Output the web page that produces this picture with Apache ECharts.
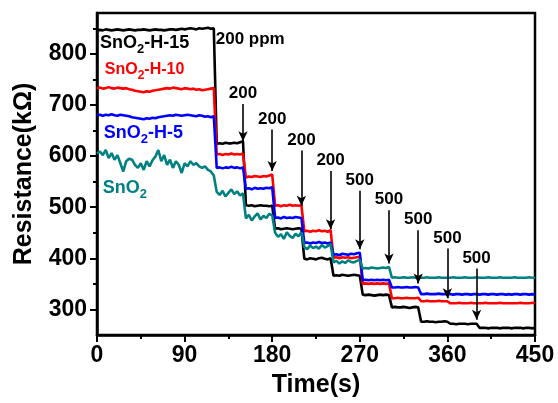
<!DOCTYPE html>
<html>
<head>
<meta charset="utf-8">
<script src="https://cdn.jsdelivr.net/npm/echarts@6/dist/echarts.min.js"></script>
<style>
html, body { margin: 0; padding: 0; background: #fff; }
#chart { width: 558px; height: 403px; }
</style>
</head>
<body>
<div id="chart"></div>
<script>
// sampling every 3 s, 0 .. 450 s
var times = [];
for (var t = 0; t <= 450; t += 3) times.push(t);

// SnO2-H-15 (black), values in kOhm
var h15 = [
	846,847,846,848,847,846,847,848,847,846,
	847,848,847,846,847,847,848,847,846,847,
	848,847,847,846,847,848,848,847,848,849,
	848,849,850,849,848,850,849,850,851,849,850,
	624,625,624,626,625,625,626,625,627,629,
	504,503,504,502,503,504,503,503,502,503,
	458,459,457,458,459,458,457,458,459,458,
	399,398,400,399,398,400,401,399,398,400,
	366,367,366,368,367,366,367,368,367,366,
	329,328,329,328,327,328,329,328,329,328,
	304,305,304,304,305,304,303,304,305,304,
	276,276,277,276,276,275,276,276,277,276,
	272,272,271,272,272,272,271,272,272,272,
	264,264,264,263,264,264,264,263,264,264,
	264,263,264,264,264,263,264,264,263,264
];
// SnO2-H-10 (red)
var h10 = [
	733,734,732,733,735,733,732,734,733,732,
	733,731,730,728,727,726,725,727,726,728,
	729,730,731,732,733,732,734,733,732,731,
	733,732,731,732,730,731,729,730,731,732,733,
	603,604,602,604,603,605,603,604,603,605,
	558,560,559,561,560,559,561,560,562,564,
	503,504,502,504,503,505,503,504,503,504,
	453,454,452,454,453,455,453,454,452,455,
	401,402,400,402,401,402,400,401,402,403,
	350,351,350,351,350,351,350,351,350,351,
	322,322,323,322,322,323,322,322,322,323,
	316,316,317,316,316,316,317,316,316,316,
	312,312,312,313,312,312,312,313,312,312,
	312,312,313,312,312,312,312,313,312,312,
	312,312,312,312,313,312,312,312,313,312
];
// SnO2-H-5 (blue)
var h5 = [
	680,681,679,681,680,682,680,679,681,680,
	679,678,676,675,674,673,672,674,673,675,
	674,676,677,678,679,680,679,681,680,679,
	680,681,680,679,678,680,679,677,678,676,678,
	577,578,576,578,577,579,577,578,576,578,
	536,537,535,538,536,537,536,538,537,539,
	479,480,478,481,479,480,479,481,480,479,
	430,431,429,431,430,432,430,431,429,431,
	407,408,406,409,408,407,409,408,410,411,
	357,358,357,358,357,358,357,358,357,358,
	343,343,344,343,343,344,343,343,344,343,
	330,330,331,330,330,330,331,330,330,330,
	330,329,330,330,329,330,330,329,330,330,
	329,330,330,329,330,330,329,330,330,329,
	330,329,330,330,329,330,330,329,330,329
];
// SnO2 (teal)
var pure = [
	605,609,602,612,596,606,593,602,586,570,
	590,595,593,583,577,586,573,590,580,592,
	599,612,590,602,583,593,577,590,583,567,
	586,580,590,583,586,580,577,580,573,570,562,
	530,524,532,521,528,535,526,531,523,527,
	478,485,474,482,488,476,483,479,487,484,
	450,442,447,438,451,444,440,448,443,451,
	422,418,425,420,423,419,426,421,424,428,
	392,395,390,394,391,396,393,392,395,397,
	380,381,380,382,381,380,381,382,381,383,
	362,363,362,362,363,362,362,363,362,362,
	362,362,363,362,362,362,363,362,362,362,
	362,363,362,362,362,363,362,362,362,363,
	362,362,362,363,362,362,362,363,362,362,
	362,362,363,362,362,362,362,363,362,362
];

// gas pulses (arrows)
var arrowTimes = [150, 180, 210, 240, 270, 300, 330, 360, 390];
var arrowTops = [702, 652, 611, 571, 532, 494, 455, 419, 380];
var arrowEnds = [629, 571, 503, 457, 418, 390, 351, 322, 280];
var arrowLabels = ['200', '200', '200', '200', '500', '500', '500', '500', '500'];

var yTicks = [300, 400, 500, 600, 700, 800];
var yMinor = [350, 450, 550, 650, 750, 850];

var FONT = 'Arial, "Liberation Sans", sans-serif';

function pairs(vals) {
	var out = [];
	for (var i = 0; i < vals.length; i++) out.push([times[i], vals[i]]);
	return out;
}

function tag(name, color, size, coord) {
	return {
		coord: coord,
		symbol: 'circle',
		symbolSize: 0,
		label: {
			show: true,
			position: 'right',
			distance: 0,
			formatter: name,
			rich: {
				a: { fontSize: size, fontWeight: 'bold', color: color, fontFamily: FONT, lineHeight: size + 2 },
				b: { fontSize: Math.round(size * 0.72), fontWeight: 'bold', color: color, fontFamily: FONT,
					lineHeight: size + 2, verticalAlign: 'bottom', padding: [0, 0, -3, 0] }
			}
		}
	};
}

var arrowData = [];
for (var i = 0; i < arrowTimes.length; i++) {
	arrowData.push([
		{ coord: [arrowTimes[i], arrowTops[i]], name: arrowLabels[i] },
		{ coord: [arrowTimes[i], arrowEnds[i]] }
	]);
}

function line(name, vals, color, extra) {
	var s = {
		name: name,
		type: 'line',
		data: pairs(vals),
		showSymbol: false,
		symbol: 'none',
		lineStyle: { color: color, width: 2.6 },
		itemStyle: { color: color },
		z: 3
	};
	for (var k in extra) s[k] = extra[k];
	return s;
}

var chart = echarts.init(document.getElementById('chart'));
var option = {
	animation: false,
	backgroundColor: '#fff',
	grid: {
		left: 97, right: 23, top: 13, bottom: 64,
		show: true, borderColor: '#000', borderWidth: 2.5
	},
	xAxis: {
		type: 'value',
		min: 0, max: 450, interval: 90,
		name: 'Time(s)',
		nameLocation: 'middle',
		nameGap: 38,
		nameTextStyle: { fontSize: 25, fontWeight: 'bold', color: '#000', fontFamily: FONT },
		axisLine: { show: true, lineStyle: { color: '#000', width: 2.5 } },
		axisTick: { show: true, inside: false, length: 7, lineStyle: { width: 2, color: '#000' } },
		minorTick: { show: true, splitNumber: 2, length: 4, lineStyle: { width: 2, color: '#000' } },
		splitLine: { show: false },
		axisLabel: { fontSize: 23, fontWeight: 'bold', color: '#000', fontFamily: FONT, margin: 9 }
	},
	yAxis: [{
		type: 'value',
		min: 250, max: 880,
		name: 'Resistance(kΩ)',
		nameLocation: 'middle',
		nameGap: 60,
		nameTextStyle: { fontSize: 25, fontWeight: 'bold', color: '#000', fontFamily: FONT },
		axisLine: { show: true, lineStyle: { color: '#000', width: 2.5 } },
		axisTick: { show: true, inside: false, length: 7, customValues: yTicks, lineStyle: { width: 2, color: '#000' } },
		splitLine: { show: false },
		axisLabel: { customValues: yTicks, fontSize: 23, fontWeight: 'bold', color: '#000', fontFamily: FONT, margin: 10 }
	}, {
		type: 'value',
		min: 250, max: 880,
		position: 'left',
		axisLine: { show: false },
		axisTick: { show: true, inside: false, length: 4, customValues: yMinor, lineStyle: { width: 2, color: '#000' } },
		splitLine: { show: false },
		axisLabel: { show: false }
	}],
	series: [
		line('SnO2-H-15', h15, '#000000', {
			markPoint: {
				silent: true,
				data: [
					tag('{a|SnO}{b|2}{a|-H-15}', '#000', 18, [3, 822]),
					{
						coord: [122, 828], symbol: 'circle', symbolSize: 0,
						label: { show: true, position: 'right', distance: 0, formatter: '200 ppm',
							fontSize: 17, fontWeight: 'bold', color: '#000', fontFamily: FONT }
					}
				]
			},
			markLine: {
				silent: true,
				symbol: ['none', 'arrow'],
				symbolSize: [7, 10],
				lineStyle: { color: '#000', width: 1.6, type: 'solid' },
				label: { show: true, position: 'start', distance: 2, formatter: '{b}',
					fontSize: 17, fontWeight: 'bold', color: '#000', fontFamily: FONT },
				data: arrowData
			}
		}),
		line('SnO2-H-10', h10, '#ff0000', {
			markPoint: { silent: true, data: [tag('{a|SnO}{b|2}{a|-H-10}', '#ff0000', 16, [8, 770])] }
		}),
		line('SnO2-H-5', h5, '#0000ff', {
			markPoint: { silent: true, data: [tag('{a|SnO}{b|2}{a|-H-5}', '#0000ff', 18, [7, 646])] }
		}),
		line('SnO2', pure, '#008080', {
			markPoint: { silent: true, data: [tag('{a|SnO}{b|2}', '#008080', 18, [6, 538])] }
		})
	]
};
chart.setOption(option);
</script>
</body>
</html>
